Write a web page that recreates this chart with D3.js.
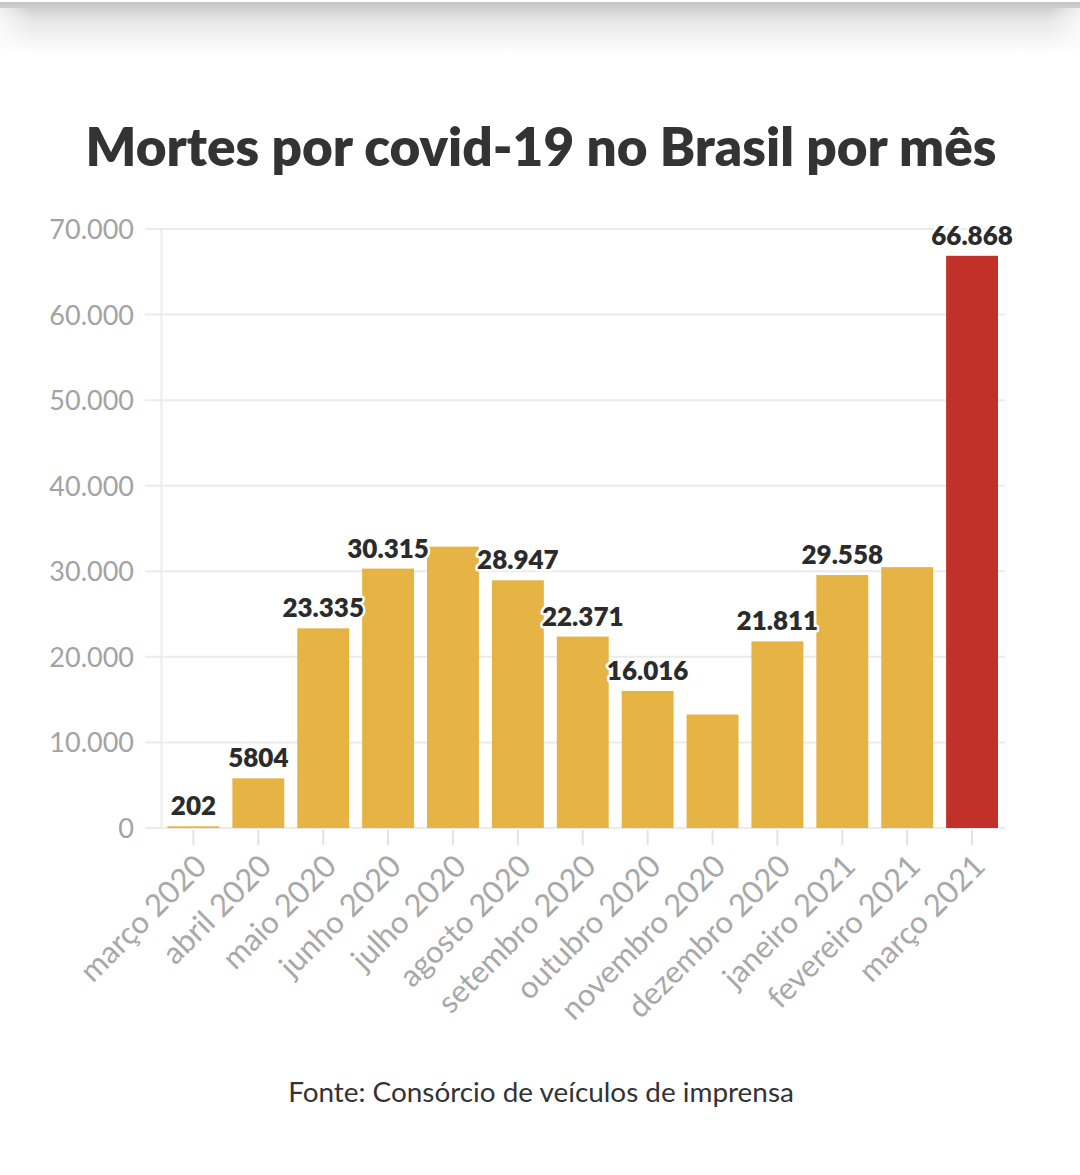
<!DOCTYPE html>
<html><head><meta charset="utf-8">
<script src="https://cdn.jsdelivr.net/npm/d3@7"></script>
<style>html,body{margin:0;padding:0;background:#fff;}svg{display:block;}</style>
</head><body>
<script>
const months = ["março 2020","abril 2020","maio 2020","junho 2020","julho 2020","agosto 2020","setembro 2020","outubro 2020","novembro 2020","dezembro 2020","janeiro 2021","fevereiro 2021","março 2021"];
const deaths = [202, 5804, 23335, 30315, 32881, 28947, 22371, 16016, 13263, 21811, 29558, 30484, 66868];
const showLabel = [true, true, true, true, false, true, true, true, false, true, true, false, true];
const yTicks = [0, 10000, 20000, 30000, 40000, 50000, 60000, 70000];
const title = "Mortes por covid-19 no Brasil por mês";
const source = "Fonte: Consórcio de veículos de imprensa";

const W = 1080, H = 1175;
const svg = d3.select("body").append("svg").attr("width", W).attr("height", H);
const defs = svg.append("defs");
const g1 = defs.append("linearGradient").attr("id","shadow").attr("x1",0).attr("y1",0).attr("x2",0).attr("y2",1);
g1.append("stop").attr("offset","0").attr("stop-color","#c4c4c4");
g1.append("stop").attr("offset","0.35").attr("stop-color","#e6e6e6");
g1.append("stop").attr("offset","1").attr("stop-color","#ffffff");
svg.append("rect").attr("x",0).attr("y",2).attr("width",W).attr("height",52).attr("fill","url(#shadow)");
const g2 = defs.append("linearGradient").attr("id","side").attr("x1",0).attr("y1",0).attr("x2",1).attr("y2",0);
g2.append("stop").attr("offset","0").attr("stop-color","#fff").attr("stop-opacity",0.7);
g2.append("stop").attr("offset","0.03").attr("stop-color","#fff").attr("stop-opacity",0);
g2.append("stop").attr("offset","0.97").attr("stop-color","#fff").attr("stop-opacity",0);
g2.append("stop").attr("offset","1").attr("stop-color","#fff").attr("stop-opacity",0.7);
svg.append("rect").attr("x",0).attr("y",8).attr("width",W).attr("height",48).attr("fill","url(#side)");

const font = "Lato, 'Source Sans Pro', 'Noto Sans', sans-serif";

// Title
const t = svg.append("text").attr("x", 541).attr("y", 166).attr("text-anchor","middle")
  .attr("font-family", font).attr("font-weight", 800).attr("font-size", 50)
  .attr("fill", "#333").text(title);
let tl = t.node().getComputedTextLength();
t.attr("font-size", 50 * 911 / tl);

const x = d3.scaleBand().domain(months).range([161, 1004.5]).paddingInner(0.2).paddingOuter(0.1);
const y = d3.scaleLinear().domain([0, 70000]).range([828, 229]);

// Grid
const grid = svg.append("g");
grid.selectAll("line").data(yTicks).join("line")
  .attr("x1", 145).attr("x2", 1005)
  .attr("y1", d => y(d)).attr("y2", d => y(d))
  .attr("stroke", "#ebebeb").attr("stroke-width", 2);
svg.append("line").attr("x1",161.5).attr("x2",161.5).attr("y1",y(70000)).attr("y2",y(0))
  .attr("stroke","#ebebeb").attr("stroke-width",2);

// Y axis labels
const yAxis = d3.axisLeft(y).tickValues(yTicks).tickSize(0).tickPadding(0)
  .tickFormat(d => d3.format(",")(d).replace(/,/g, "."));
const ya = svg.append("g").attr("transform","translate(134,0)").call(yAxis);
ya.select(".domain").remove();
ya.selectAll("text").attr("font-family", font).attr("font-size", 27).attr("fill","#a3a3a3").attr("dy","0.35em");

// X ticks & labels
const xAxis = d3.axisBottom(x).tickSize(15).tickPadding(0);
const xa = svg.append("g").attr("transform","translate(0,830)").call(xAxis);
xa.select(".domain").remove();
xa.selectAll(".tick line").attr("stroke","#e3e3e3").attr("stroke-width",2);
xa.selectAll(".tick text")
  .attr("font-family", font).attr("font-size", 31).attr("fill","#a8a8a8")
  .attr("text-anchor","end").attr("y",0).attr("dy",0)
  .attr("transform","translate(15,38) rotate(-45)");

// Bars
svg.append("g").selectAll("rect").data(months).join("rect")
  .attr("x", d => x(d)).attr("width", x.bandwidth())
  .attr("y", (d,i) => y(deaths[i])).attr("height", (d,i) => y(0) - y(deaths[i]))
  .attr("fill", (d,i) => i === months.length - 1 ? "#c1312a" : "#e5b444");

// Value labels
const fmt = v => v < 10000 ? String(v) : d3.format(",")(v).replace(/,/g, ".");
svg.append("g").selectAll("text").data(months.filter((d,i) => showLabel[i])).join("text")
  .attr("x", d => x(d) + x.bandwidth()/2)
  .attr("y", d => y(deaths[months.indexOf(d)]) - 11)
  .attr("text-anchor","middle")
  .attr("font-family", font).attr("font-weight", 800).attr("font-size", 26)
  .attr("fill","#2b2b2b").attr("stroke","#fff").attr("stroke-width",5)
  .attr("stroke-linejoin","round").attr("paint-order","stroke")
  .text(d => fmt(deaths[months.indexOf(d)]));

// Source
const s = svg.append("text").attr("x", 541).attr("y", 1102).attr("text-anchor","middle")
  .attr("font-family", font).attr("font-size", 28).attr("fill","#333").text(source);
let sl = s.node().getComputedTextLength();
s.attr("font-size", 28 * 506 / sl);
</script>
</body></html>
